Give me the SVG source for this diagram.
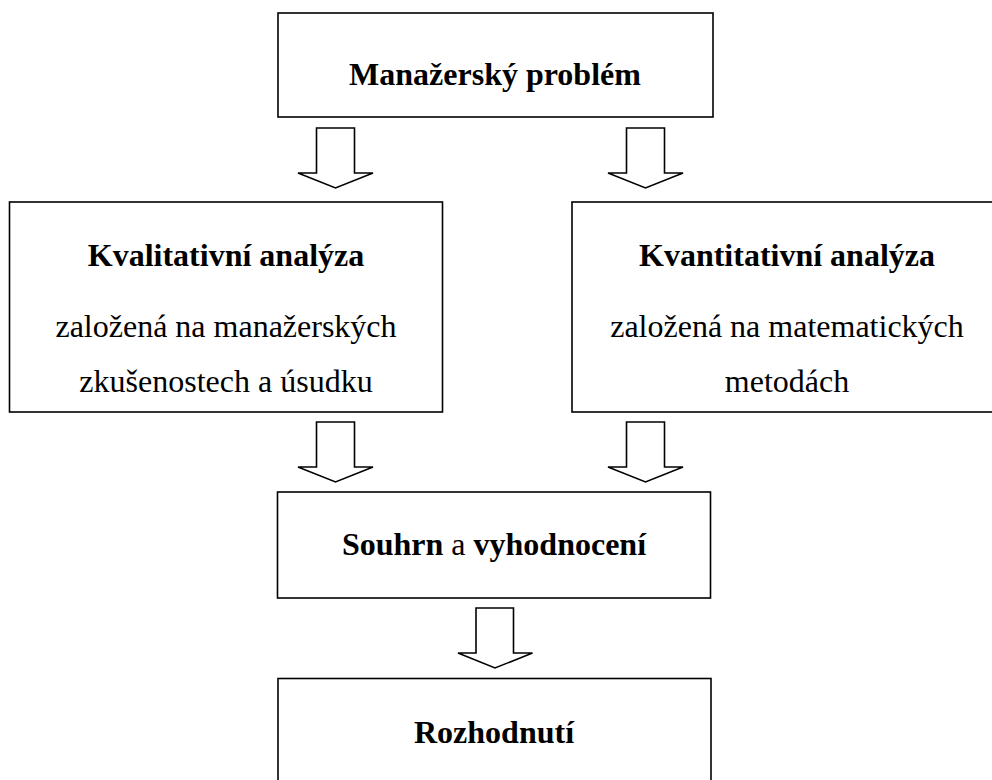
<svg xmlns="http://www.w3.org/2000/svg" width="992" height="780" viewBox="0 0 992 780">
<style>
.box{fill:#fff;stroke:#000;stroke-width:1.6}
.arr{fill:#fff;stroke:#000;stroke-width:1.6;stroke-linejoin:miter}
text{font-family:"Liberation Serif","Times New Roman",serif;font-size:32px;fill:#000;text-anchor:middle}
.b{font-weight:bold}
</style>
<rect width="992" height="780" fill="#fff"/>
<g id="n1">
<rect class="box" x="278" y="13" width="435" height="104"/>
<text class="b" x="495" y="85">Manažerský problém</text>
</g>
<g id="n2">
<rect class="box" x="9.5" y="202" width="433" height="210"/>
<text class="b" x="226" y="266">Kvalitativní analýza</text>
<text x="226" y="337">založená na manažerských</text>
<text x="226" y="392">zkušenostech a úsudku</text>
</g>
<g id="n3">
<rect class="box" x="572" y="202" width="432" height="210"/>
<text class="b" x="787" y="266">Kvantitativní analýza</text>
<text x="787" y="337">založená na matematických</text>
<text x="787" y="392">metodách</text>
</g>
<g id="n4">
<rect class="box" x="277.5" y="492" width="433" height="106"/>
<text x="494" y="555"><tspan class="b">Souhrn</tspan> a <tspan class="b">vyhodnocení</tspan></text>
</g>
<g id="n5">
<rect class="box" x="278" y="678.5" width="433" height="120"/>
<text class="b" x="494" y="743">Rozhodnutí</text>
</g>
<g id="connectors">
<path class="arr" d="M316.5,128 V173 H298 L335.5,188 L373,173 H354.5 V128 Z"/>
<path class="arr" d="M626.5,128 V173 H608 L645.5,188 L683,173 H664.5 V128 Z"/>
<path class="arr" d="M316.5,422 V467 H298 L335.5,482 L373,467 H354.5 V422 Z"/>
<path class="arr" d="M626.5,422 V467 H608 L645.5,482 L683,467 H664.5 V422 Z"/>
<path class="arr" d="M476,608 V653 H458 L495,668 L532.5,653 H513.5 V608 Z"/>
</g>
</svg>
